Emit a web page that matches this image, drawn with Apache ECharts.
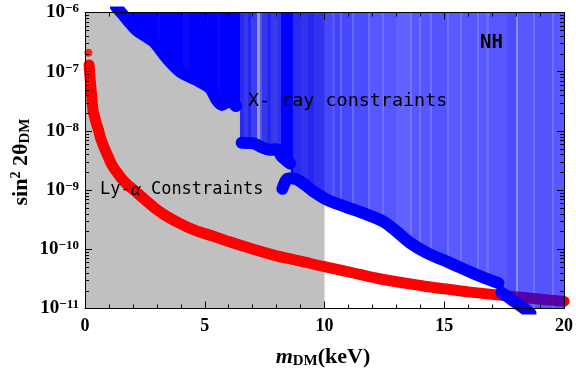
<!DOCTYPE html>
<html><head><meta charset="utf-8">
<script src="https://cdn.jsdelivr.net/npm/echarts@6/dist/echarts.min.js"></script>
<style>html,body{margin:0;padding:0;background:#fff}#c{width:576px;height:369px}</style>
</head><body><div id="c"></div>
<script>
// ---------- data ----------
const xTickLabels = ['0', '5', '10', '15', '20'];
const yDecades = [-11, -10, -9, -8, -7, -6];

// Ly-alpha (red) band
const lyaMass = [0.17, 0.22, 0.28, 0.33, 0.45, 0.56, 0.65, 0.8, 0.95, 1.12, 1.3, 1.5, 1.75, 2.02, 2.5, 3.0, 3.41, 4.0, 4.6, 5.36, 6.0, 7.03, 8.0, 9.0, 9.95, 11.0, 12.45, 14.0, 15.24, 16.0, 17.19, 18.5, 20.0];
const lyaSin2 = [1.30e-7, 7.08e-8, 3.80e-8, 2.29e-8, 1.445e-8, 1.047e-8, 7.59e-9, 5.25e-9, 3.80e-9, 2.69e-9, 2.09e-9, 1.62e-9, 1.26e-9, 1.02e-9, 6.92e-10, 4.68e-10, 3.63e-10, 2.69e-10, 2.09e-10, 1.66e-10, 1.35e-10, 1.0e-10, 7.76e-11, 6.31e-11, 5.13e-11, 4.17e-11, 3.09e-11, 2.45e-11, 2.09e-11, 1.91e-11, 1.70e-11, 1.51e-11, 1.32e-11];
const lyaDotMass = [0.14];
const lyaDotSin2 = [2.09e-7];
const lyaRegionMass = [0, 10];

// X-ray (blue) constraint curve, four branches
const xrayB1Mass = [1.29, 1.53, 2.16, 2.85, 3.41, 3.97, 4.66, 5.22, 5.50, 5.71, 5.98, 6.30];
const xrayB1Sin2 = [1.26e-6, 9.77e-7, 5.01e-7, 3.24e-7, 1.70e-7, 1.0e-7, 7.24e-8, 5.25e-8, 3.31e-8, 2.75e-8, 3.16e-8, 2.63e-8];
const xrayB2Mass = [6.54, 7.03, 7.40, 7.72, 8.00, 8.21, 8.56];
const xrayB2Sin2 = [6.31e-9, 6.17e-9, 5.25e-9, 4.79e-9, 4.90e-9, 3.72e-9, 2.82e-9];
const xrayB3Mass = [8.24, 8.42, 8.63, 8.98, 9.53, 10.09, 10.79, 11.62, 12.45, 13.01, 13.57, 14.27, 15.24, 16.35, 17.26];
const xrayB3Sin2 = [1.05e-9, 1.51e-9, 1.58e-9, 1.41e-9, 9.55e-10, 6.92e-10, 5.37e-10, 4.07e-10, 2.95e-10, 2.0e-10, 1.29e-10, 8.71e-11, 5.89e-11, 3.72e-11, 2.69e-11];
const xrayB4Mass = [17.39, 17.88, 18.30, 18.60];
const xrayB4Sin2 = [1.86e-11, 1.35e-11, 1.02e-11, 8.3e-12];

// lower edge of the excluded X-ray region
const xrayEdgeMass = [1.29, 1.53, 2.16, 2.85, 3.41, 3.97, 4.66, 5.22, 5.50, 5.71, 5.98, 6.30, 6.47, 6.47, 6.54, 7.03, 7.40, 7.72, 8.00, 8.21, 8.56, 8.63, 8.63, 8.98, 9.53, 10.09, 10.79, 11.62, 12.45, 13.01, 13.57, 14.27, 15.24, 16.35, 17.26, 17.35, 17.39, 17.88, 18.30, 18.35, 20.0];
const xrayEdgeSin2 = [1.26e-6, 9.77e-7, 5.01e-7, 3.24e-7, 1.70e-7, 1.0e-7, 7.24e-8, 5.25e-8, 3.31e-8, 2.75e-8, 3.16e-8, 2.63e-8, 2.51e-8, 6.31e-9, 6.31e-9, 6.17e-9, 5.25e-9, 4.79e-9, 4.90e-9, 3.72e-9, 2.82e-9, 2.69e-9, 1.58e-9, 1.41e-9, 9.55e-10, 6.92e-10, 5.37e-10, 4.07e-10, 2.95e-10, 2.0e-10, 1.29e-10, 8.71e-11, 5.89e-11, 3.72e-11, 2.69e-11, 2.51e-11, 1.86e-11, 1.35e-11, 1.02e-11, 1e-11, 1e-11];

// density of the vertical stripes of the excluded region (start mass, opacity)
const xrayStripeMass = [1.2, 3.0, 3.15, 4.1, 4.35, 5.5, 5.62, 6.47, 6.62, 6.8, 6.95, 7.17, 7.3, 7.38, 7.6, 7.75, 8.05, 8.2, 8.7, 9.0, 9.3, 9.55, 10.0, 10.3, 10.42, 10.65, 10.75, 11.15, 11.25, 11.8, 11.9, 12.4, 12.5, 13.0, 13.55, 13.65, 13.95, 14.05, 14.4, 14.5, 15.1, 15.2, 15.65, 15.75, 16.35, 16.45, 16.75, 16.85, 17.6, 18.0, 18.08, 18.7, 18.8, 19.5, 19.6];
const xrayStripeAlpha = [1.0, 0.96, 1.0, 0.95, 1.0, 0.96, 1.0, 0.78, 0.70, 0.8, 0.68, 0.22, 0.55, 0.72, 0.8, 0.7, 0.76, 1.0, 0.78, 0.74, 0.8, 0.74, 0.72, 0.66, 0.74, 0.6, 0.72, 0.6, 0.7, 0.58, 0.66, 0.57, 0.66, 0.62, 0.55, 0.66, 0.56, 0.66, 0.56, 0.67, 0.56, 0.65, 0.56, 0.66, 0.57, 0.65, 0.58, 0.66, 0.7, 0.45, 0.66, 0.58, 0.67, 0.57, 0.66];

// ---------- helpers ----------
const zip = (a, b) => a.map((v, i) => [v, b[i]]);
const yMinorTicks = [];
yDecades.slice(0, -1).forEach(d => { for (let k = 2; k <= 9; k++) yMinorTicks.push(k * Math.pow(10, d)); });

const serif = 'Liberation Serif';
const mono = 'DejaVu Sans Mono';

function xAxisCfg(pos) {
  return {
    type: 'value', min: 0, max: 20, interval: 5, position: pos, z: 10,
    axisLine: { show: true, onZero: false, lineStyle: { color: '#000', width: 1 } },
    axisTick: { show: true, inside: true, length: 7, lineStyle: { color: '#000' } },
    minorTick: { show: true, splitNumber: 5, length: 4, lineStyle: { color: '#000' } },
    splitLine: { show: false },
    axisLabel: pos === 'bottom' ? {
      show: true, margin: 9, color: '#000', fontFamily: serif, fontWeight: 'bold', fontSize: 18,
      formatter: v => xTickLabels[Math.round(v / 5)]
    } : { show: false }
  };
}
function yAxisCfg(pos) {
  return {
    type: 'log', logBase: 10, min: 1e-11, max: 1e-6, position: pos, z: 10,
    axisLine: { show: true, onZero: false, lineStyle: { color: '#000', width: 1 } },
    axisTick: { show: true, inside: true, length: 7, lineStyle: { color: '#000' } },
    minorTick: { show: false },
    splitLine: { show: false },
    axisLabel: pos === 'left' ? {
      show: true, margin: 6, color: '#000',
      formatter: v => '{b|10}{s|\u2212' + (-Math.round(Math.log10(v))) + '}',
      rich: {
        b: { fontFamily: serif, fontWeight: 'bold', fontSize: 19, lineHeight: 20, verticalAlign: 'middle', color: '#000' },
        s: { fontFamily: serif, fontWeight: 'bold', fontSize: 13, lineHeight: 12, padding: [0, 0, 14, 0], verticalAlign: 'top', color: '#000' }
      }
    } : { show: false }
  };
}

const chart = echarts.init(document.getElementById('c'), null, { renderer: 'canvas' });
const option = {
  animation: false,
  backgroundColor: '#fff',
  grid: { left: 85, top: 12.5, width: 479, height: 296, containLabel: false },
  xAxis: [xAxisCfg('bottom'), xAxisCfg('top')],
  yAxis: [yAxisCfg('left'), yAxisCfg('right')],
  series: [
    { type: 'line', id: 'lyaRegion', z: 1, data: lyaRegionMass.map(m => [m, 1e-11]), symbol: 'none',
      lineStyle: { width: 0, opacity: 0 }, areaStyle: { color: '#c0c0c0', opacity: 1, origin: 'end' }, silent: true },
    { type: 'line', id: 'lya', z: 2, data: zip(lyaMass, lyaSin2), symbol: 'none', smooth: 0.3,
      lineStyle: { color: '#ff0000', width: 11, cap: 'round', join: 'round' }, silent: true },
    { type: 'scatter', id: 'lyaDot', z: 2, data: zip(lyaDotMass, lyaDotSin2), symbol: 'circle', symbolSize: 8,
      itemStyle: { color: '#ff0000' }, silent: true },
    { type: 'line', id: 'xrayArea', z: 3, data: zip(xrayEdgeMass, xrayEdgeSin2), symbol: 'none',
      lineStyle: { width: 0, opacity: 0 }, areaStyle: { color: 'rgba(0,0,255,0.67)', opacity: 1, origin: 'end' }, silent: true },
    ...[[xrayB1Mass, xrayB1Sin2], [xrayB2Mass, xrayB2Sin2], [xrayB3Mass, xrayB3Sin2], [xrayB4Mass, xrayB4Sin2]].map((b, i) => ({
      type: 'line', id: 'xray' + i, z: 4, data: zip(b[0], b[1]), symbol: 'none', smooth: 0.3,
      lineStyle: { color: '#0000ff', width: 12, cap: 'round', join: 'round' }, silent: true
    })),
    { type: 'custom', id: 'yMinor', z: 11, silent: true, data: yMinorTicks.map(v => [0, v]),
      renderItem: (params, api) => {
        const v = api.value(1);
        const pL = api.coord([0, v]);
        const pR = api.coord([20, v]);
        const y = Math.round(pL[1]) + 0.5;
        return { type: 'group', children: [
          { type: 'line', shape: { x1: pL[0], y1: y, x2: pL[0] + 4, y2: y }, style: { stroke: '#000', lineWidth: 1 } },
          { type: 'line', shape: { x1: pR[0] - 4, y1: y, x2: pR[0], y2: y }, style: { stroke: '#000', lineWidth: 1 } }
        ] };
      } }
  ],
  graphic: [
    { type: 'text', z: 100, x: 248, y: 101, style: { text: 'X- ray constraints', font: '18.4px "DejaVu Sans Mono"', fill: '#000', align: 'left', verticalAlign: 'middle' } },
    { type: 'text', z: 100, x: 100, y: 190, style: {
        text: '{m|Ly-}{a|\u03b1}{m| Constraints}', align: 'left', verticalAlign: 'middle',
        rich: { m: { fontFamily: mono, fontSize: 17, color: '#000' }, a: { fontFamily: serif, fontStyle: 'italic', fontSize: 19, color: '#000' } } } },
    { type: 'text', z: 100, x: 480, y: 43, style: { text: 'NH', font: 'bold 19px "DejaVu Sans Mono"', fill: '#000', align: 'left', verticalAlign: 'middle' } },
    { type: 'text', z: 100, x: 323, y: 357, style: {
        text: '{m|m}{d|DM}{k|(keV)}', align: 'center', verticalAlign: 'middle',
        rich: {
          m: { fontFamily: serif, fontStyle: 'italic', fontWeight: 'bold', fontSize: 22, lineHeight: 24, color: '#000' },
          d: { fontFamily: serif, fontWeight: 'bold', fontSize: 15, lineHeight: 15, verticalAlign: 'bottom', color: '#000' },
          k: { fontFamily: serif, fontWeight: 'bold', fontSize: 22, lineHeight: 24, color: '#000' }
        } } },
    { type: 'text', z: 100, x: 21, y: 162, rotation: Math.PI / 2, style: {
        text: '{a|sin}{p|2}{a| 2\u03b8}{d|DM}', align: 'center', verticalAlign: 'middle',
        rich: {
          a: { fontFamily: serif, fontWeight: 'bold', fontSize: 22, lineHeight: 24, color: '#000' },
          p: { fontFamily: serif, fontWeight: 'bold', fontSize: 14, lineHeight: 14, verticalAlign: 'top', color: '#000' },
          d: { fontFamily: serif, fontWeight: 'bold', fontSize: 15, lineHeight: 15, verticalAlign: 'bottom', color: '#000' }
        } } }
  ]
};
chart.setOption(option);

// stripe gradient positioned through the x axis scale
const px0 = chart.convertToPixel({ xAxisIndex: 0 }, 0);
const px1 = chart.convertToPixel({ xAxisIndex: 0 }, 20);
const stops = [];
xrayStripeMass.forEach((m, i) => {
  const end = i + 1 < xrayStripeMass.length ? xrayStripeMass[i + 1] : 20;
  const c = 'rgba(0,0,255,' + xrayStripeAlpha[i] + ')';
  stops.push({ offset: m / 20, color: c });
  stops.push({ offset: end / 20, color: c });
});
const grad = new echarts.graphic.LinearGradient(px0, 0, px1, 0, stops, true);
chart.setOption({ series: [{ id: 'xrayArea', areaStyle: { color: grad } }] });
</script></body></html>
